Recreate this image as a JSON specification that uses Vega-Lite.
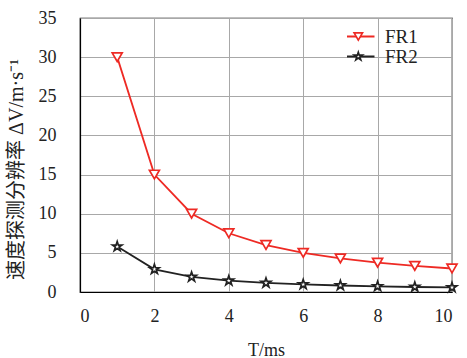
{
  "$schema": "https://vega.github.io/schema/vega-lite/v6.json",
  "width": 372,
  "height": 274,
  "autosize": {"type": "none"},
  "padding": {"left": 80, "top": 18, "right": 15, "bottom": 66},
  "background": "white",
  "config": {
    "view": {"stroke": "black", "strokeWidth": 1.2},
    "font": "Liberation Serif",
    "axis": {
      "labelFont": "Liberation Serif",
      "titleFont": "Liberation Serif",
      "labelFontSize": 18,
      "titleFontSize": 18,
      "labelColor": "#222",
      "titleColor": "#222",
      "titleFontWeight": "normal",
      "grid": true,
      "gridColor": "#a8a8a8",
      "gridWidth": 1,
      "ticks": false,
      "domainColor": "black",
      "domainWidth": 1.2
    },
    "legend": {
      "labelFont": "Liberation Serif",
      "labelFontSize": 19,
      "labelColor": "#222",
      "padding": 0,
      "rowPadding": 0,
      "clipHeight": 15
    }
  },
  "data": {
    "values": [
      {"T": 1, "v": 30, "series": "FR1", "name": "FR1"},
      {"T": 2, "v": 15, "series": "FR1", "name": "FR1"},
      {"T": 3, "v": 10, "series": "FR1", "name": "FR1"},
      {"T": 4, "v": 7.5, "series": "FR1", "name": "FR1"},
      {"T": 5, "v": 6, "series": "FR1", "name": "FR1"},
      {"T": 6, "v": 5, "series": "FR1", "name": "FR1"},
      {"T": 7, "v": 4.29, "series": "FR1", "name": "FR1"},
      {"T": 8, "v": 3.75, "series": "FR1", "name": "FR1"},
      {"T": 9, "v": 3.33, "series": "FR1", "name": "FR1"},
      {"T": 10, "v": 3, "series": "FR1", "name": "FR1"},
      {"T": 1, "v": 5.8, "series": "FR2", "name": "FR2"},
      {"T": 2, "v": 2.9, "series": "FR2", "name": "FR2"},
      {"T": 3, "v": 1.93, "series": "FR2", "name": "FR2"},
      {"T": 4, "v": 1.45, "series": "FR2", "name": "FR2"},
      {"T": 5, "v": 1.16, "series": "FR2", "name": "FR2"},
      {"T": 6, "v": 0.97, "series": "FR2", "name": "FR2"},
      {"T": 7, "v": 0.83, "series": "FR2", "name": "FR2"},
      {"T": 8, "v": 0.73, "series": "FR2", "name": "FR2"},
      {"T": 9, "v": 0.64, "series": "FR2", "name": "FR2"},
      {"T": 10, "v": 0.58, "series": "FR2", "name": "FR2"}
    ]
  },
  "encoding": {
    "x": {
      "field": "T", "type": "quantitative",
      "scale": {"domain": [0, 10], "nice": false},
      "axis": {"values": [0, 2, 4, 6, 8, 10], "title": "T/ms", "labelPadding": 15, "titlePadding": 16}
    },
    "y": {
      "field": "v", "type": "quantitative",
      "scale": {"domain": [0, 35], "nice": false},
      "axis": {"values": [0, 5, 10, 15, 20, 25, 30, 35], "title": "速度探测分辨率 ΔV/m·s⁻¹", "titleFont": "Liberation Serif, Noto Sans CJK SC", "titleFontSize": 20, "titleY": 151, "labelPadding": 24, "titlePadding": 12}
    }
  },
  "layer": [
    {
      "mark": {"type": "line", "strokeWidth": 1.8},
      "encoding": {
        "stroke": {
          "field": "series", "type": "nominal",
          "scale": {"domain": ["FR1", "FR2"], "range": ["#ee2a24", "#222222"]},
          "legend": {"orient": "none", "legendX": 267, "legendY": 11, "title": null, "symbolType": "M-3,0L3,0", "symbolSize": 144, "symbolStrokeWidth": 2, "labelOffset": 19}
        }
      }
    },
    {
      "mark": {"type": "point", "filled": false, "fill": "white", "fillOpacity": 1, "size": 100, "strokeWidth": 1.7, "opacity": 1},
      "encoding": {
        "color": {
          "field": "name", "type": "nominal",
          "scale": {"range": ["#ee2a24", "#222222"]},
          "legend": {"orient": "none", "legendX": 268.8, "legendY": 11, "title": null, "labelExpr": "''", "symbolFillColor": "white", "symbolStrokeWidth": 1.7, "symbolSize": 70}
        },
        "shape": {
          "field": "name", "type": "nominal",
          "scale": {"range": ["triangle-down", "M0,-1L0.2245,-0.309L0.9511,-0.309L0.3633,0.118L0.5878,0.809L0,0.382L-0.5878,0.809L-0.3633,0.118L-0.9511,-0.309L-0.2245,-0.309Z"]},
          "legend": {"orient": "none", "legendX": 268.8, "legendY": 11, "title": null, "labelExpr": "''", "symbolFillColor": "white", "symbolStrokeWidth": 1.7, "symbolSize": 70}
        }
      }
    }
  ]
}
